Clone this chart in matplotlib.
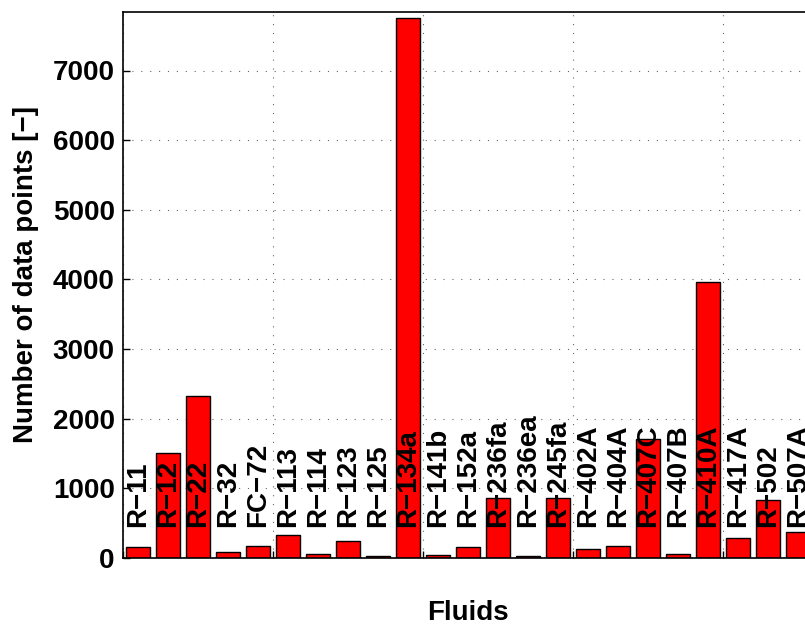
import numpy as np
import matplotlib.pyplot as plt

plt.rcParams['font.family'] = ['Liberation Sans', 'DejaVu Sans']
plt.rcParams['font.weight'] = 'bold'

fluids = ['R-11', 'R-12', 'R-22', 'R-32', 'FC-72', 'R-113', 'R-114', 'R-123',
          'R-125', 'R-134a', 'R-141b', 'R-152a', 'R-236fa', 'R-236ea', 'R-245fa',
          'R-402A', 'R-404A', 'R-407C', 'R-407B', 'R-410A', 'R-417A', 'R-502',
          'R-507A']
n_points = [163, 1509, 2332, 86, 172, 330, 62, 244,
            33, 7747, 47, 163, 867, 29, 867,
            129, 172, 1714, 62, 3970, 292, 838,
            369]

fig = plt.figure(figsize=(8.05, 6.28), dpi=100)
# axes run a little past the right edge of the figure
ax = fig.add_axes([123 / 805, 70 / 628, 690 / 805, 546 / 628])

x = np.arange(len(fluids)) + 0.5
ax.bar(x, n_points, width=0.8, color='red', edgecolor='black', linewidth=1.0, zorder=2)

# fluid names written up the bars
for xi, name in zip(x, fluids):
    ax.text(xi, 440, name.replace('-', '\u2212'), rotation=90, ha='center', va='bottom',
            fontsize=20, fontweight='bold', zorder=3)

ax.set_xlim(0, 23)
ax.set_ylim(0, 7840)
ax.set_xticks(np.arange(0, 24, 5))
ax.set_xticklabels([])
ax.set_yticks(np.arange(0, 7001, 1000))
ax.tick_params(direction='in', length=5, width=1, labelsize=20, pad=6)
for lab in ax.get_yticklabels():
    lab.set_fontweight('bold')
ax.grid(True, linestyle=(0, (1, 7)), color='black', linewidth=0.8, alpha=0.6)
ax.set_axisbelow(True)
for s in ax.spines.values():
    s.set_linewidth(1.2)

ax.set_xlabel('Fluids', fontsize=20, fontweight='bold')
ax.set_ylabel('Number of data points [\u2212]', fontsize=20, fontweight='bold')
ax.xaxis.set_label_coords(345 / 690, -42 / 546)
ax.yaxis.set_label_coords(-84 / 690, 0.52)

fig.savefig('out.png', dpi=100)
